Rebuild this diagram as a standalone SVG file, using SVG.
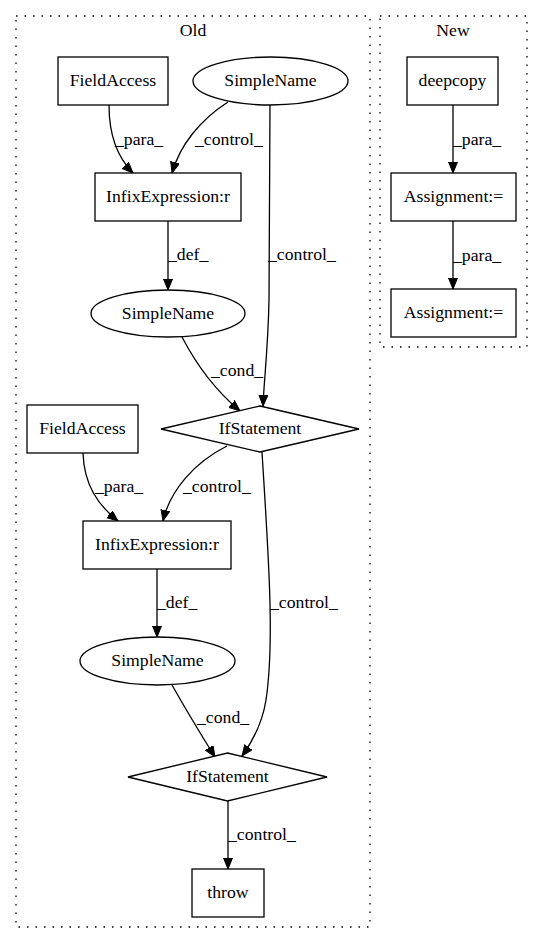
<svg xmlns="http://www.w3.org/2000/svg" width="543" height="944" viewBox="0 0 543 944">
<style>
text{font-family:'Liberation Serif','DejaVu Serif',serif;font-size:17.7px;fill:#000}
.c{text-anchor:middle}
.n{fill:#fff;stroke:#000;stroke-width:1.3}
.cl{fill:none;stroke:#000;stroke-width:1.3;stroke-dasharray:1.5,7}
.e{fill:none;stroke:#000;stroke-width:1.3;marker-end:url(#a)}
</style>
<defs>
<marker id="a" markerUnits="userSpaceOnUse" markerWidth="12" markerHeight="10" refX="11" refY="4.5" orient="auto">
<path d="M0,0 L11,4.5 L0,9 z" fill="#000" stroke="#000" stroke-width="1"/>
</marker>
</defs>
<rect width="543" height="944" fill="#fff"/>
<g font-family="Liberation Serif, serif">
<g id="cluster_old">
<rect class="cl" x="16" y="16" width="354" height="911"/>
<text class="c" x="193" y="36">Old</text>
</g>
<g id="cluster_new">
<rect class="cl" x="380" y="16" width="147" height="331"/>
<text class="c" x="453" y="36">New</text>
</g>
<g id="edges">
<path class="e" d="M109,105 C109,135 118,158 133,173"/>
<text x="115" y="145">_para_</text>
<path class="e" d="M228,102 C200,120 180,145 172,173"/>
<text x="195" y="145">_control_</text>
<path class="e" d="M270,105 L269,300 C268,350 264,380 263,406"/>
<text x="268" y="260">_control_</text>
<path class="e" d="M168,221 L168,290"/>
<text x="168" y="260">_def_</text>
<path class="e" d="M182,337 C195,362 215,390 240,411"/>
<text x="211" y="376">_cond_</text>
<path class="e" d="M83,453 C84,485 98,505 118,521"/>
<text x="95" y="492">_para_</text>
<path class="e" d="M227,446 C195,462 170,490 163,521"/>
<text x="183" y="492">_control_</text>
<path class="e" d="M262,452 C268,550 275,640 266,700 C262,725 250,745 242,756"/>
<text x="270" y="608">_control_</text>
<path class="e" d="M157,569 L157,637"/>
<text x="157" y="608">_def_</text>
<path class="e" d="M172,685 C185,708 200,733 215,757"/>
<text x="197" y="723">_cond_</text>
<path class="e" d="M228,801 L228,869"/>
<text x="228" y="840">_control_</text>
<path class="e" d="M453,105 L453,173"/>
<text x="453" y="145">_para_</text>
<path class="e" d="M453,221 L453,289"/>
<text x="453" y="261">_para_</text>
</g>
<g id="fieldaccess1">
<rect class="n" x="58" y="57" width="110" height="48"/>
<text class="c" x="113" y="86">FieldAccess</text>
</g>
<g id="simplename1">
<ellipse class="n" cx="270.5" cy="81" rx="77.5" ry="24"/>
<text class="c" x="270.5" y="86">SimpleName</text>
</g>
<g id="infix1">
<rect class="n" x="95" y="173" width="146" height="48"/>
<text class="c" x="168" y="202">InfixExpression:r</text>
</g>
<g id="simplename2">
<ellipse class="n" cx="168" cy="313.5" rx="77" ry="23.5"/>
<text class="c" x="168" y="318.5">SimpleName</text>
</g>
<g id="ifstatement1">
<polygon class="n" points="260,406 359,429 260,452 161,429"/>
<text class="c" x="260" y="434">IfStatement</text>
</g>
<g id="fieldaccess2">
<rect class="n" x="27" y="405" width="111" height="48"/>
<text class="c" x="82.5" y="434">FieldAccess</text>
</g>
<g id="infix2">
<rect class="n" x="83" y="521" width="148" height="48"/>
<text class="c" x="157" y="550">InfixExpression:r</text>
</g>
<g id="simplename3">
<ellipse class="n" cx="157.5" cy="661" rx="77.5" ry="24"/>
<text class="c" x="157.5" y="666">SimpleName</text>
</g>
<g id="ifstatement2">
<polygon class="n" points="227.5,753 327,777 227.5,801 128,777"/>
<text class="c" x="227.5" y="782">IfStatement</text>
</g>
<g id="throw">
<rect class="n" x="192" y="869" width="72" height="48"/>
<text class="c" x="228" y="898">throw</text>
</g>
<g id="deepcopy">
<rect class="n" x="407" y="57" width="91" height="48"/>
<text class="c" x="452.5" y="86">deepcopy</text>
</g>
<g id="assignment1">
<rect class="n" x="391" y="173" width="125" height="48"/>
<text class="c" x="453.5" y="202">Assignment:=</text>
</g>
<g id="assignment2">
<rect class="n" x="391" y="289" width="125" height="48"/>
<text class="c" x="453.5" y="318">Assignment:=</text>
</g>
</g>
</svg>
